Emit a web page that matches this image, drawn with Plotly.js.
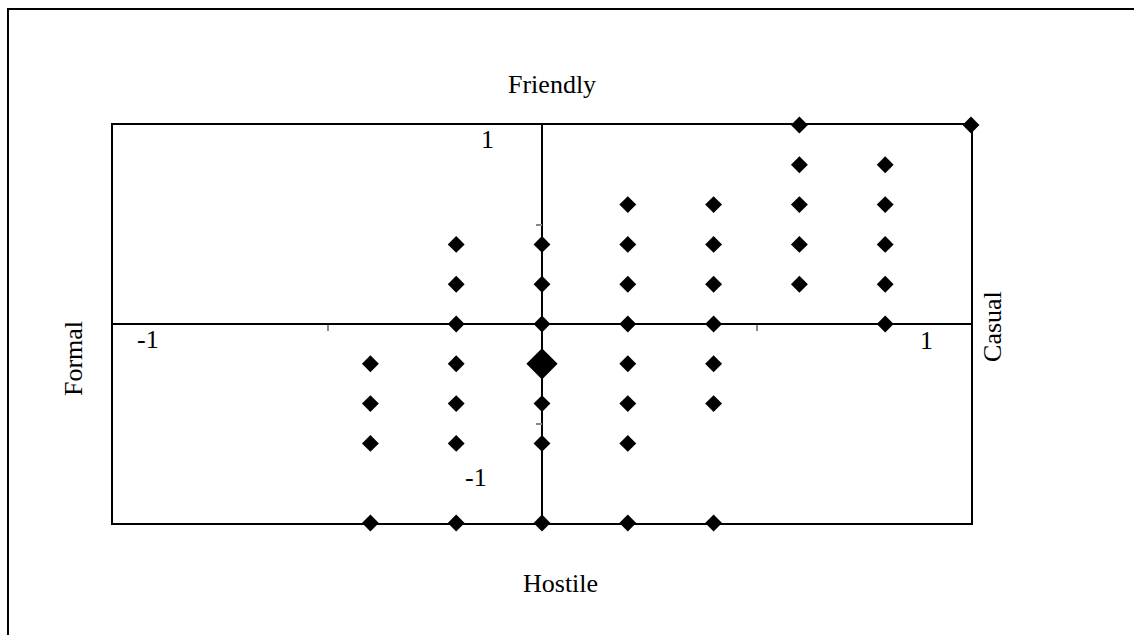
<!DOCTYPE html>
<html>
<head>
<meta charset="utf-8">
<script src="https://cdn.plot.ly/plotly-3.0.1.min.js"></script>
<style>
  html, body { margin: 0; padding: 0; background: #fff; }
  #chart { width: 1134px; height: 635px; }
</style>
</head>
<body>
<div id="chart"></div>
<script>
// Small diamonds (casual/formal score, friendly/hostile score)
const pointX = [
  -0.4, -0.4, -0.4, -0.4,
  -0.2, -0.2, -0.2, -0.2, -0.2, -0.2, -0.2,
  0, 0, 0, 0, 0, 0,
  0.2, 0.2, 0.2, 0.2, 0.2, 0.2, 0.2, 0.2,
  0.4, 0.4, 0.4, 0.4, 0.4, 0.4, 0.4,
  0.6, 0.6, 0.6, 0.6, 0.6,
  0.8, 0.8, 0.8, 0.8, 0.8,
  1
];
const pointY = [
  -0.2, -0.4, -0.6, -1,
  0.4, 0.2, 0, -0.2, -0.4, -0.6, -1,
  0.4, 0.2, 0, -0.4, -0.6, -1,
  0.6, 0.4, 0.2, 0, -0.2, -0.4, -0.6, -1,
  0.6, 0.4, 0.2, 0, -0.2, -0.4, -1,
  1, 0.8, 0.6, 0.4, 0.2,
  0.8, 0.6, 0.4, 0.2, 0,
  1
];
// Large diamond
const bigX = [0];
const bigY = [-0.2];

// Axis tick labels and pole titles
const xTickLabels = ['-1', '1'];
const yTickLabels = ['1', '-1'];
const poleTitles = ['Friendly', 'Hostile', 'Formal', 'Casual'];

const FONT = 'Liberation Serif, Times New Roman, serif';
const FS = 26;

const traces = [
  {
    type: 'scatter', mode: 'markers', x: pointX, y: pointY,
    marker: { symbol: 'diamond', size: 13, color: '#000', line: { width: 0 } },
    cliponaxis: false, showlegend: false, hoverinfo: 'x+y'
  },
  {
    type: 'scatter', mode: 'markers', x: bigX, y: bigY,
    marker: { symbol: 'diamond', size: 24, color: '#000', line: { width: 0 } },
    cliponaxis: false, showlegend: false, hoverinfo: 'x+y'
  },
  {
    type: 'scatter', mode: 'markers', x: [null], y: [null],
    xaxis: 'x2', yaxis: 'y2', showlegend: false, hoverinfo: 'skip'
  }
];

function ann(text, x, y, angle) {
  return {
    text: text, x: x, y: y, xref: 'paper', yref: 'paper',
    xanchor: 'center', yanchor: 'middle', showarrow: false,
    textangle: angle || 0,
    font: { family: FONT, size: FS, color: '#000' }
  };
}

const layout = {
  width: 1134, height: 635,
  margin: { l: 113, r: 163, t: 125, b: 112 },
  paper_bgcolor: '#fff', plot_bgcolor: '#fff',
  showlegend: false,
  xaxis: {
    range: [-1, 1], showgrid: false, zeroline: true, zerolinecolor: '#000', zerolinewidth: 2,
    showline: true, mirror: true, linecolor: '#000', linewidth: 2,
    ticks: '', showticklabels: false, fixedrange: true
  },
  yaxis: {
    range: [-1, 1], showgrid: false, zeroline: true, zerolinecolor: '#000', zerolinewidth: 2,
    showline: true, mirror: true, linecolor: '#000', linewidth: 2,
    ticks: '', showticklabels: false, fixedrange: true
  },
  xaxis2: {
    overlaying: 'x', anchor: 'free', position: 0.5, side: 'bottom', range: [-1, 1],
    tickmode: 'array', tickvals: [-0.5, 0.5], ticks: 'outside', ticklen: 6, tickwidth: 2,
    tickcolor: '#888', showticklabels: false, showline: false, showgrid: false, zeroline: false
  },
  yaxis2: {
    overlaying: 'y', anchor: 'free', position: 0.5, side: 'left', range: [-1, 1],
    tickmode: 'array', tickvals: [-0.5, 0.5], ticks: 'outside', ticklen: 6, tickwidth: 2,
    tickcolor: '#888', showticklabels: false, showline: false, showgrid: false, zeroline: false
  },
  annotations: [
    ann(yTickLabels[0], 0.4359, 0.9648),
    ann(yTickLabels[1], 0.4231, 0.1131),
    ann(xTickLabels[0], 0.0408, 0.4598),
    ann(xTickLabels[1], 0.9487, 0.4573),
    ann(poleTitles[0], 0.5117, 1.103),
    ann(poleTitles[1], 0.521, -0.151),
    ann(poleTitles[2], -0.0466, 0.412, -90),
    ann(poleTitles[3], 1.0256, 0.495, -90)
  ],
  shapes: [
    {
      type: 'rect', xref: 'paper', yref: 'paper',
      x0: -0.1224, x1: 1.4, y0: -0.5, y1: 1.2915,
      line: { color: '#000', width: 2 }, fillcolor: 'rgba(0,0,0,0)', layer: 'below'
    }
  ]
};

Plotly.newPlot('chart', traces, layout, { displayModeBar: false, staticPlot: true });
</script>
</body>
</html>
